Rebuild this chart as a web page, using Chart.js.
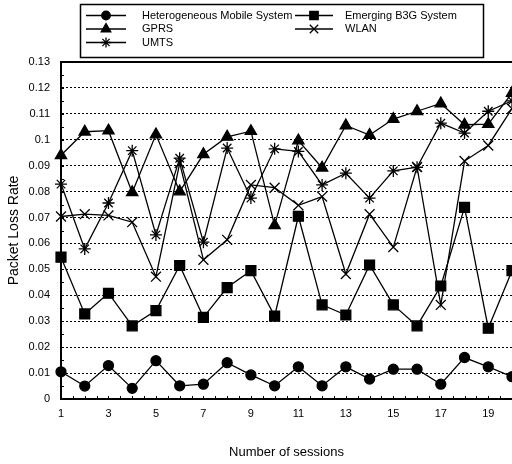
<!DOCTYPE html>
<html>
<head>
<meta charset="utf-8">
<script src="https://cdn.jsdelivr.net/npm/chart.js@4.4.1/dist/chart.umd.min.js"></script>
<style>
html, body { margin: 0; padding: 0; background: #fff; }
canvas { display: block; }
</style>
</head>
<body>
<canvas id="lossChart" width="512" height="464"></canvas>
<script>
'use strict';
// Number of sessions (x axis)
const sessions = [1, 2, 3, 4, 5, 6, 7, 8, 9, 10, 11, 12, 13, 14, 15, 16, 17, 18, 19, 20];

// Packet loss rate per system
const heterogeneous = [0.0105, 0.005, 0.0129, 0.0041, 0.0148, 0.0051, 0.0057, 0.014, 0.0093, 0.0051,
                       0.0124, 0.0051, 0.0124, 0.0077, 0.0115, 0.0115, 0.0057, 0.016, 0.0124, 0.0086];
const emergingB3G   = [0.0547, 0.0328, 0.0408, 0.0282, 0.0341, 0.0515, 0.0315, 0.043, 0.0495, 0.032,
                       0.0705, 0.0363, 0.0324, 0.0517, 0.0363, 0.0282, 0.0436, 0.0739, 0.0273, 0.0495];
const gprs          = [0.0940, 0.1031, 0.1035, 0.0797, 0.102, 0.080, 0.0944, 0.1011, 0.1033, 0.067,
                       0.0997, 0.0892, 0.1055, 0.1018, 0.108, 0.111, 0.114, 0.1058, 0.106, 0.118];
const umts          = [0.0829, 0.0579, 0.0756, 0.0958, 0.0633, 0.0929, 0.0605, 0.0968, 0.0775, 0.0965,
                       0.0955, 0.0826, 0.0871, 0.0775, 0.0880, 0.0894, 0.1064, 0.1026, 0.111, 0.115];
const wlan          = [0.0704, 0.0713, 0.0708, 0.0682, 0.0472, 0.091, 0.0537, 0.0614, 0.0826, 0.0815,
                       0.0747, 0.0781, 0.0482, 0.0713, 0.0586, 0.0895, 0.0363, 0.0918, 0.0978, 0.112];

const yTicks = { min: 0, max: 0.13, step: 0.01 };

const FONT = "'Liberation Sans', Arial, Helvetica, sans-serif";
Chart.defaults.font.family = FONT;
Chart.defaults.color = '#000';

function serie(label, data, style, radius) {
  return {
    label: label,
    data: data,
    borderColor: '#000',
    backgroundColor: '#000',
    borderWidth: 1.3,
    pointStyle: style,
    pointRadius: radius,
    pointHoverRadius: radius,
    pointBorderWidth: 1.3,
    pointBackgroundColor: '#000',
    pointBorderColor: '#000',
    tension: 0,
    fill: false
  };
}

const datasets = [
  serie('Heterogeneous Mobile System', heterogeneous, 'circle', 5),
  serie('Emerging B3G System', emergingB3G, 'rect', 7),
  serie('GPRS', gprs, 'triangle', 6.5),
  serie('WLAN', wlan, 'crossRot', 7),
  serie('UMTS', umts, 'star', 6)
];

// legend placement: [dataset index, column, row]
const legendItems = [[0, 0, 0], [1, 1, 0], [2, 0, 1], [3, 1, 1], [4, 0, 2]];

// cadre du haut + petites graduations vers l'intérieur
const cadrePlugin = {
  id: 'cadre',
  afterDraw(chart) {
    const { ctx, chartArea: a, scales } = chart;
    const x = scales.x, y = scales.y;
    ctx.save();
    ctx.strokeStyle = '#000';
    ctx.lineWidth = 2;
    ctx.beginPath();
    ctx.moveTo(a.left, a.top);
    ctx.lineTo(a.right, a.top);
    ctx.stroke();
    ctx.lineWidth = 1;
    ctx.beginPath();
    for (let k = 0; k <= 26; k++) {
      const py = Math.round(y.getPixelForValue(k * 0.005)) + 0.5;
      ctx.moveTo(a.left, py);
      ctx.lineTo(a.left + 3, py);
    }
    for (let k = 0; k <= (sessions.length - 1) * 2; k++) {
      const px = Math.round(x.getPixelForValue(k / 2)) + 0.5;
      ctx.moveTo(px, a.bottom);
      ctx.lineTo(px, a.bottom - 3);
    }
    ctx.stroke();
    ctx.restore();
  }
};

// légende encadrée sur deux colonnes
const legendPlugin = {
  id: 'legendeBoite',
  afterDraw(chart) {
    const ctx = chart.ctx;
    const box = { left: 80.5, top: 4.5, width: 403, height: 53 };
    const cols = [{ l1: 86, l2: 126, text: 142 }, { l1: 295, l2: 333, text: 345 }];
    const rows = [15.5, 29, 42.5];
    ctx.save();
    ctx.strokeStyle = '#000';
    ctx.lineWidth = 1.5;
    ctx.strokeRect(box.left, box.top, box.width, box.height);
    ctx.font = '11px ' + FONT;
    ctx.textBaseline = 'middle';
    ctx.textAlign = 'left';
    ctx.fillStyle = '#000';
    legendItems.forEach(([di, c, r]) => {
      const ds = datasets[di];
      const col = cols[c];
      const yy = rows[r];
      ctx.lineWidth = 1.3;
      ctx.beginPath();
      ctx.moveTo(col.l1, yy);
      ctx.lineTo(col.l2, yy);
      ctx.stroke();
      Chart.helpers.drawPoint(ctx, {
        pointStyle: ds.pointStyle,
        radius: ds.pointRadius * 0.85,
        rotation: 0,
        borderWidth: 1.3
      }, (col.l1 + col.l2) / 2, yy);
      ctx.fillText(ds.label, col.text, yy);
    });
    ctx.restore();
  }
};

const ctx = document.getElementById('lossChart').getContext('2d');
const lossChart = new Chart(ctx, {
  type: 'line',
  data: { labels: sessions, datasets: datasets },
  options: {
    responsive: false,
    animation: false,
    events: [],
    layout: { autoPadding: false, padding: { top: 62, right: 0, left: 0, bottom: 0 } },
    plugins: { legend: { display: false }, tooltip: { enabled: false } },
    scales: {
      x: {
        type: 'category',
        grid: { display: false, drawTicks: false },
        border: { display: true, color: '#000', width: 2 },
        ticks: {
          autoSkip: false,
          maxRotation: 0,
          padding: 8,
          font: { size: 11 },
          color: '#000',
          callback: (v, i) => (i % 2 === 0 ? String(sessions[i]) : '')
        },
        title: {
          display: true,
          text: 'Number of sessions',
          font: { size: 13 },
          color: '#000',
          padding: { top: 0, bottom: 4 }
        },
        afterFit(scale) {
          scale.height = 65;
          scale.paddingLeft = 0;
          scale.paddingRight = 0;
        }
      },
      y: {
        min: yTicks.min,
        max: yTicks.max,
        grid: { color: '#000', lineWidth: 1, drawTicks: false },
        border: { display: true, color: '#000', width: 2, dash: [2, 2] },
        ticks: {
          stepSize: yTicks.step,
          padding: 11,
          font: { size: 11 },
          color: '#000',
          callback: v => String(Number(v.toFixed(2)))
        },
        title: {
          display: true,
          text: 'Packet Loss Rate',
          font: { size: 14 },
          color: '#000',
          padding: { top: 6, bottom: 0 }
        },
        afterFit(scale) { scale.width = 61; }
      }
    }
  },
  plugins: [cadrePlugin, legendPlugin]
});
</script>
</body>
</html>
